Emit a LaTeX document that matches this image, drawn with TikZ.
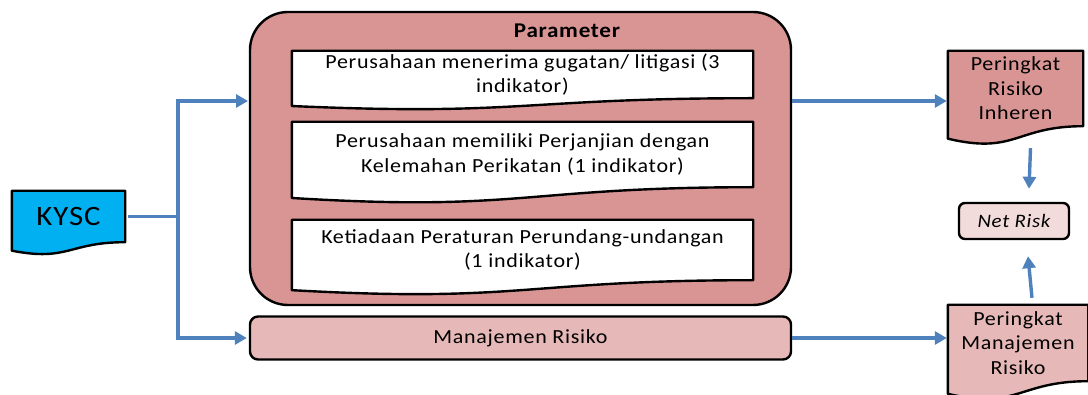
\documentclass[tikz,border=0pt]{standalone}
\usepackage{fontspec}
\setmainfont{Carlito}[FakeStretch=1.1,LetterSpace=3.5]
\usetikzlibrary{calc,arrows.meta}
\definecolor{kyscblue}{HTML}{00B0F0}
\definecolor{rosedark}{HTML}{D99594}
\definecolor{roselight}{HTML}{E6B9B8}
\definecolor{rosepale}{HTML}{F2DCDB}
\definecolor{flowblue}{HTML}{4F81BD}
\pgfdeclarelayer{bg}
\pgfdeclarelayer{mid}
\pgfsetlayers{bg,mid,main}
\tikzset{every node/.style={inner sep=0pt, align=center, font=\fontsize{20}{24.5}\selectfont},
  docline/.style={draw=black, line width=2.4pt, line join=round},
  roundbox/.style={docline, rounded corners=#1},
  flow/.style={draw=flowblue, line width=3.4pt, -{Triangle[length=12pt,width=13pt]}}}
\newcommand\docshape[2]{%
  \begin{pgfonlayer}{mid}
  \draw[docline, fill=#2] (#1.north west) -- (#1.north east) -- (#1.south east)
    .. controls (#1.south) and ($(#1.north)!1.38!(#1.south)$) .. ($(#1.north west)!1.165!(#1.south west)$) -- cycle;
  \end{pgfonlayer}}
\begin{document}
\begin{tikzpicture}[x=1pt, y=-1pt]
  \useasboundingbox (0,0) rectangle (1088,395);
  \begin{pgfonlayer}{bg}
   \node[roundbox=38pt, fill=rosedark, minimum width=541pt, minimum height=293pt] (param) at (520.5,158.5) {};
  \end{pgfonlayer}
  \node[font=\bfseries\fontsize{21}{24}\selectfont] (ptitle) at (567,31) {Parameter};
  \node[minimum width=113pt, minimum height=51pt, font=\fontsize{28}{30}\selectfont] (kysc) at (68.5,216.5) {KYSC};
  \node[minimum width=461pt, minimum height=47pt] (ind1) at (522.5,74.5) {Perusahaan menerima gugatan/ litigasi (3\\indikator)};
  \node[minimum width=461pt, minimum height=65pt] (ind2) at (522.5,154.5) {Perusahaan memiliki Perjanjian dengan\\Kelemahan Perikatan (1 indikator)};
  \node[minimum width=461pt, minimum height=60pt] (ind3) at (522.5,250) {Ketiadaan Peraturan Perundang-undangan\\(1 indikator)};
  \node[roundbox=8pt, fill=roselight, minimum width=541pt, minimum height=43pt] (mr) at (520.5,338) {Manajemen Risiko};
  \node[minimum width=135pt, minimum height=75pt] (pri) at (1015.5,88.5) {Peringkat\\Risiko\\Inheren};
  \node[minimum width=140pt, minimum height=76pt] (prm) at (1018,343) {Peringkat\\Manajemen\\Risiko};
  \node[roundbox=6pt, fill=rosepale, minimum width=110pt, minimum height=36pt, font=\itshape\fontsize{19}{24}\selectfont] (net) at (1014,221) {Net Risk};
  \docshape{kysc}{kyscblue}
  \docshape{ind1}{white}
  \docshape{ind2}{white}
  \docshape{ind3}{white}
  \docshape{pri}{rosedark}
  \docshape{prm}{roselight}
  \coordinate (split) at (178,216.5);
  \coordinate (pin) at (250,101);
  \draw[flow, -, shorten <=3pt] (kysc.east) -- (split);
  \draw[flow, shorten >=2pt] (split) |- (pin);
  \draw[flow, shorten >=2pt] (split) |- (mr.west);
  \draw[flow, shorten >=1pt] (pin -| param.east) -- (pin -| pri.west);
  \draw[flow, shorten >=1pt] (mr.east) -- (mr.east -| prm.west);
  \draw[flow] ([xshift=15pt, yshift=-22pt]pri.south) -- ([xshift=15pt, yshift=13pt]net.north);
  \draw[flow] ([xshift=14pt, yshift=7pt]prm.north) -- ([xshift=14pt, yshift=-16pt]net.south);
\end{tikzpicture}
\end{document}
